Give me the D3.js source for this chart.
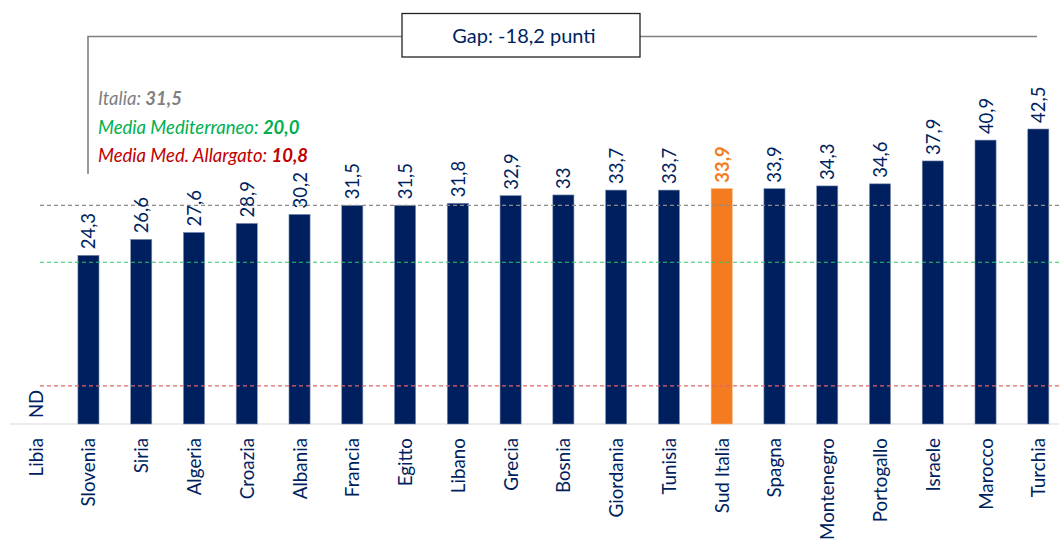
<!DOCTYPE html>
<html>
<head>
<meta charset="utf-8">
<script src="https://cdn.jsdelivr.net/npm/d3@7"></script>
<style>
  body { margin: 0; background: #fff; }
  svg { font-family: Lato, "Open Sans", sans-serif; }
</style>
</head>
<body>
<div id="chart"></div>
<script>
// countries, sorted like the source chart (Libia has no data)
var countries = ["Libia", "Slovenia", "Siria", "Algeria", "Croazia", "Albania", "Francia", "Egitto",
  "Libano", "Grecia", "Bosnia", "Giordania", "Tunisia", "Sud Italia", "Spagna", "Montenegro",
  "Portogallo", "Israele", "Marocco", "Turchia"];
var values = [null, 24.3, 26.6, 27.6, 28.9, 30.2, 31.5, 31.5, 31.8, 32.9, 33, 33.7, 33.7, 33.9,
  33.9, 34.3, 34.6, 37.9, 40.9, 42.5];
var highlight = "Sud Italia";

// reference lines: legend text and the level where each dashed line is drawn
var refNames = ["Italia: ", "Media Mediterraneo: ", "Media Med. Allargato: "];
var refValues = ["31,5", "20,0", "10,8"];
var refLevels = [31.5, 23.3, 5.5];
var refColors = ["#808080", "#00b050", "#c00000"];
var refLineColors = ["#8c8c8c", "#2ec866", "#e06666"];

var gapText = "Gap: -18,2 punti";

var width = 1059, height = 540;
var navy = "#001f5f", orange = "#f47b20";

var svg = d3.select("#chart").append("svg")
  .attr("width", width)
  .attr("height", height);

var x = d3.scaleBand()
  .domain(countries)
  .range([9.3, 1064.7])
  .paddingInner(0.6)
  .paddingOuter(0.3);

var y = d3.scaleLinear()
  .domain([0, 42.5])
  .range([424, 129]);

function fmt(v) { return String(v).replace(".", ","); }

// bracket and gap box
svg.append("path")
  .attr("d", "M88,174V36.5H1037")
  .attr("fill", "none")
  .attr("stroke", "#7f7f7f")
  .attr("stroke-width", 1.6);

svg.append("rect")
  .attr("x", 402).attr("y", 13.5)
  .attr("width", 238).attr("height", 43.5)
  .attr("fill", "#fff")
  .attr("stroke", "#222")
  .attr("stroke-width", 1.3);

svg.append("text")
  .attr("x", 524).attr("y", 43)
  .attr("text-anchor", "middle")
  .attr("fill", navy)
  .style("font-size", "20px")
  .text(gapText);

// legend of reference values
var leg = svg.selectAll(".leg")
  .data(refNames)
  .enter().append("text")
  .attr("class", "leg")
  .attr("x", 98)
  .attr("y", function(d, i) { return 105 + i * 28.5; })
  .attr("fill", function(d, i) { return refColors[i]; })
  .style("font-size", "18.5px")
  .style("font-style", "italic");
leg.append("tspan").text(function(d) { return d; });
leg.append("tspan")
  .style("font-weight", "bold")
  .text(function(d, i) { return refValues[i]; });

// axis baseline
svg.append("line")
  .attr("x1", 10).attr("x2", width)
  .attr("y1", y(0)).attr("y2", y(0))
  .attr("stroke", "#d9d9d9")
  .attr("stroke-width", 1.2);

// bars
var withData = countries.filter(function(c, i) { return values[i] != null; });
svg.selectAll(".bar")
  .data(withData)
  .enter().append("rect")
  .attr("class", "bar")
  .attr("x", function(d) { return x(d); })
  .attr("width", x.bandwidth())
  .attr("y", function(d) { return y(values[countries.indexOf(d)]); })
  .attr("height", function(d) { return y(0) - y(values[countries.indexOf(d)]); })
  .attr("fill", function(d) { return d === highlight ? orange : navy; })
  .attr("stroke", function(d) { return d === highlight ? "#f8b07a" : "#7d8fb3"; })
  .attr("stroke-width", 0.6);

// dashed reference lines
svg.selectAll(".ref")
  .data(refLevels)
  .enter().append("line")
  .attr("class", "ref")
  .attr("x1", 40).attr("x2", width)
  .attr("y1", function(d) { return y(d); })
  .attr("y2", function(d) { return y(d); })
  .attr("stroke", function(d, i) { return refLineColors[i]; })
  .attr("stroke-width", 1.2)
  .attr("stroke-dasharray", "4,3");

// value labels
svg.selectAll(".val")
  .data(countries)
  .enter().append("text")
  .attr("class", "val")
  .attr("transform", function(d, i) {
    var cx = x(d) + x.bandwidth() / 2 + 7;
    var top = values[i] == null ? 418 : y(values[i]) - 6;
    return "translate(" + cx + "," + top + ") rotate(-90)";
  })
  .attr("fill", function(d) { return d === highlight ? orange : navy; })
  .style("font-size", "18.5px")
  .style("font-weight", function(d) { return d === highlight ? "bold" : "normal"; })
  .text(function(d, i) { return values[i] == null ? "ND" : fmt(values[i]); });

// category labels
svg.selectAll(".cat")
  .data(countries)
  .enter().append("text")
  .attr("class", "cat")
  .attr("transform", function(d) {
    return "translate(" + (x(d) + x.bandwidth() / 2 + 7) + ",438) rotate(-90)";
  })
  .attr("text-anchor", "end")
  .attr("fill", navy)
  .style("font-size", "18.8px")
  .text(function(d) { return d; });
</script>
</body>
</html>
